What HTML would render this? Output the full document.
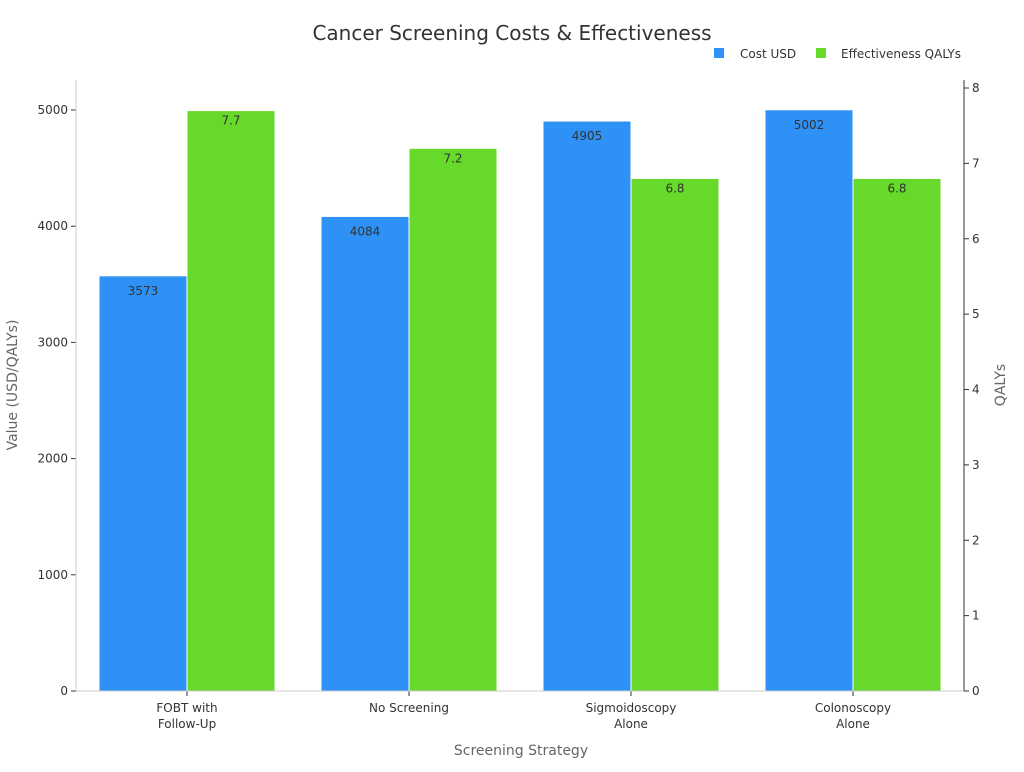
<!DOCTYPE html>
<html><head><meta charset="utf-8"><style>
body{margin:0;background:#fff;font-family:"DejaVu Sans","Liberation Sans",sans-serif;}
svg text{font-family:"DejaVu Sans","Liberation Sans",sans-serif;}
</style></head><body>
<svg id="chart" width="1024" height="768" xmlns="http://www.w3.org/2000/svg">
<text x="512" y="40" text-anchor="middle" font-size="20" fill="#333">Cancer Screening Costs &amp; Effectiveness</text>
<g>
<rect x="714" y="48" width="10" height="10" fill="#2E91F5"/>
<text x="740" y="58" font-size="12" fill="#333">Cost USD</text>
<rect x="816" y="48" width="10" height="10" fill="#66D92B"/>
<text x="841" y="58" font-size="12" fill="#333">Effectiveness QALYs</text>
</g>
<g id="plot"></g>
<text x="521" y="755" text-anchor="middle" font-size="14" fill="#666">Screening Strategy</text>
<text transform="translate(17,385) rotate(-90)" text-anchor="middle" font-size="14" fill="#666">Value (USD/QALYs)</text>
<text transform="translate(1005,385) rotate(-90)" text-anchor="middle" font-size="14" fill="#666">QALYs</text>
</svg>
<script>
const categories=[["FOBT with","Follow-Up"],["No Screening"],["Sigmoidoscopy","Alone"],["Colonoscopy","Alone"]];
const costValues=[3573,4084,4905,5002];
const qalyValues=[7.7,7.2,6.8,6.8];
const leftTicks=[0,1000,2000,3000,4000,5000];
const rightTicks=[0,1,2,3,4,5,6,7,8];
const L=76,R=964,T=80,B=691;
const yL=v=>B-v*(581/5000);
const yR=v=>B-v*(603/8);
const band=(R-L)/categories.length;
const ns="http://www.w3.org/2000/svg";
const g=document.getElementById('plot');
function mk(tag,attrs){const e=document.createElementNS(ns,tag);for(const k in attrs)e.setAttribute(k,attrs[k]);g.appendChild(e);return e;}
categories.forEach((c,i)=>{
  const cx=L+band*(i+0.5);
  const b=mk('rect',{x:cx-88,y:yL(costValues[i]),width:88,height:B-yL(costValues[i]),fill:'#2E91F5',stroke:'#fff','stroke-width':1});
  
  
  const t=mk('text',{x:cx-44,y:yL(costValues[i])+19,'text-anchor':'middle','font-size':12,fill:'#333'});t.textContent=costValues[i];
  
  
  const b2=mk('rect',{x:cx,y:yR(qalyValues[i]),width:88,height:B-yR(qalyValues[i]),fill:'#66D92B',stroke:'#fff','stroke-width':1});
  
  
  const t2=mk('text',{x:cx+44,y:yR(qalyValues[i])+14,'text-anchor':'middle','font-size':12,fill:'#333'});t2.textContent=qalyValues[i];
  
  
  c.forEach((line,j)=>{
    const xl=mk('text',{x:cx,y:712+j*16,'text-anchor':'middle','font-size':12,fill:'#333'});xl.textContent=line;
    
    
  });
  mk('line',{x1:cx,x2:cx,y1:B,y2:B+5,stroke:'#333'});
});
leftTicks.forEach(v=>{
  mk('line',{x1:L-5,x2:L,y1:yL(v),y2:yL(v),stroke:'#333'});
  const t=mk('text',{x:L-8,y:yL(v)+4,'text-anchor':'end','font-size':12,fill:'#333'});t.textContent=v;
  
  
});
rightTicks.forEach(v=>{
  mk('line',{x1:R,x2:R+5,y1:yR(v),y2:yR(v),stroke:'#333'});
  const t=mk('text',{x:R+8,y:yR(v)+4,'font-size':12,fill:'#333'});t.textContent=v;
  
  
});
const a1=mk('line',{x1:L,x2:L,y1:T,y2:B,stroke:'#ccc'});


const a2=mk('line',{x1:R,x2:R,y1:T,y2:B,stroke:'#333'});


const a3=mk('line',{x1:L,x2:R,y1:B,y2:B,stroke:'#ccc'});


</script>
</body></html>
